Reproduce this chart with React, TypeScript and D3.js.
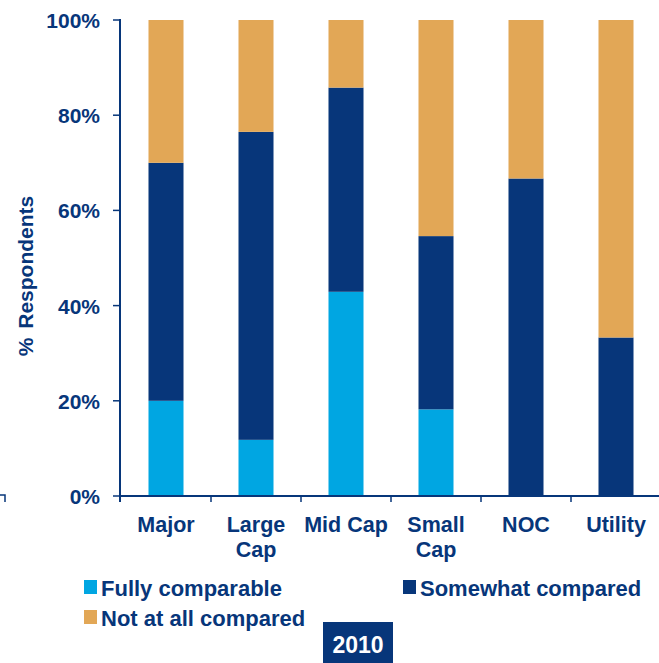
import { scaleBand, scaleLinear, stack, format } from "d3"

const categories = ["Major", "Large Cap", "Mid Cap", "Small Cap", "NOC", "Utility"]
const categoryLines = [["Major"], ["Large", "Cap"], ["Mid Cap"], ["Small", "Cap"], ["NOC"], ["Utility"]]
const fullyComparable = [20, 11.8, 42.9, 18.2, 0, 0]
const somewhatCompared = [50, 64.7, 42.9, 36.4, 66.7, 33.3]
const notAtAllCompared = [30, 23.5, 14.2, 45.4, 33.3, 66.7]
const seriesNames = ["Fully comparable", "Somewhat compared", "Not at all compared"]
const yTicks = [0, 20, 40, 60, 80, 100]
const yearLabel = "2010"

const navy = "#07367A"
const colors = ["#00A6E2", "#07367A", "#E2A756"]
const font = "'Liberation Sans', Arial, sans-serif"

const App = () => {
  const width = 659
  const height = 663
  const left = 120
  const right = 660
  const top = 20
  const bottom = 496

  const rows = categories.map((c, i) => ({
    cat: c,
    [seriesNames[0]]: fullyComparable[i],
    [seriesNames[1]]: somewhatCompared[i],
    [seriesNames[2]]: notAtAllCompared[i],
  }))
  const stacked = stack().keys(seriesNames)(rows)

  const xScale = scaleBand().domain(categories).range([left + 1, right + 1]).paddingInner(0.611).paddingOuter(0.3055)
  const yScale = scaleLinear().domain([0, 100]).range([bottom, top])
  const step = xScale.step()
  const fmt = (d) => format(".0f")(d) + "%"

  // legend spots, two columns then a second row
  const legendPos = [
    { x: 84, y: 596 },
    { x: 403, y: 596 },
    { x: 84, y: 626 },
  ]

  return (
    <svg width={width} height={height} style={{ position: "absolute", left: 0, top: 0, background: "#fff" }} fontFamily={font} fontWeight="bold">
      {stacked.map((s, si) => (
        <g key={s.key} fill={colors[si]}>
          {s.map((d, i) => (
            <rect key={categories[i]} x={xScale(categories[i])} width={xScale.bandwidth()} y={yScale(d[1])} height={Math.max(0, yScale(d[0]) - yScale(d[1]))} />
          ))}
        </g>
      ))}

      {/* y axis */}
      <line x1={left} x2={left} y1={top - 1} y2={bottom + 6} stroke={navy} strokeWidth={2} />
      {yTicks.map(t => (
        <g key={t}>
          <line x1={left - 7} x2={left} y1={yScale(t)} y2={yScale(t)} stroke={navy} strokeWidth={1.5} />
          <text x={100} y={yScale(t)} dy="0.38em" textAnchor="end" fill={navy} fontSize={21}>{fmt(t)}</text>
        </g>
      ))}
      <text transform={`translate(33, 276) rotate(-90)`} textAnchor="middle" fill={navy} fontSize={21} wordSpacing={3}>% Respondents</text>

      {/* x axis */}
      <line x1={left} x2={width} y1={bottom} y2={bottom} stroke={navy} strokeWidth={2} />
      {categories.map((c, i) => (
        <line key={c} x1={xScale(c) - xScale.paddingOuter() * step + step} x2={xScale(c) - xScale.paddingOuter() * step + step} y1={bottom} y2={bottom + 6} stroke={navy} strokeWidth={1.5} />
      ))}
      {categories.map((c, i) => (
        <text key={c} textAnchor="middle" fill={navy} fontSize={21.5}>
          {categoryLines[i].map((l, li) => (
            <tspan key={l} x={xScale(c) + xScale.bandwidth() / 2} y={532 + li * 25}>{l}</tspan>
          ))}
        </text>
      ))}

      {/* small stray bracket at left edge */}
      <path d="M0,495 H5 V502" fill="none" stroke={navy} strokeWidth={1.5} />

      {/* legend */}
      {seriesNames.map((n, i) => (
        <g key={n}>
          <rect x={legendPos[i].x} y={legendPos[i].y - 16} width={13} height={14} fill={colors[i]} />
          <text x={legendPos[i].x + 17} y={legendPos[i].y} fill={navy} fontSize={22}>{n}</text>
        </g>
      ))}

      <rect x={323} y={622} width={70} height={41} fill={navy} />
      <text x={358} y={653} textAnchor="middle" fill="#fff" fontSize={23}>{yearLabel}</text>
    </svg>
  )
}

export default App
